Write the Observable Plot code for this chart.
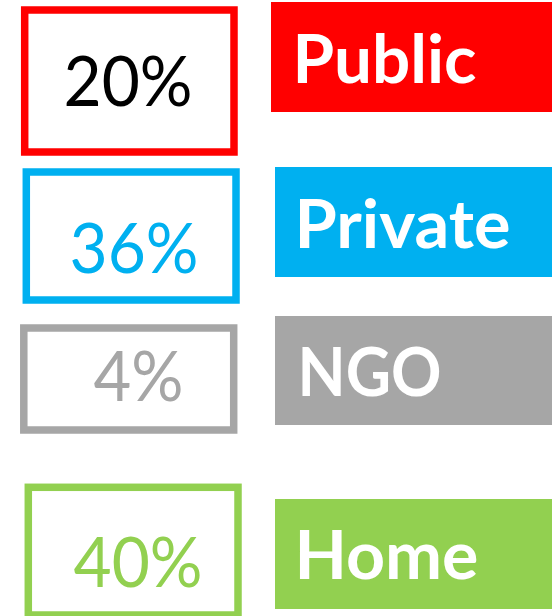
<!DOCTYPE html>
<html><head><meta charset="utf-8">
<script src="https://cdn.jsdelivr.net/npm/d3@7"></script>
<script src="https://cdn.jsdelivr.net/npm/@observablehq/plot@0.6"></script>
<style>html,body{margin:0;padding:0;background:#fff;overflow:hidden}</style>
</head><body><div id="chart"></div>
<script>
// Data
const categories = ["Public", "Private", "NGO", "Home"];
const shares = [20, 36, 4, 40];
const colors = ["#FF0000", "#00B0F0", "#A6A6A6", "#92D050"];
const valueColors = ["#000000", "#00B0F0", "#A6A6A6", "#92D050"];

// Layout (infographic geometry, px)
const outlineBoxes = [
  [24.7, 234, 10, 152],
  [26.3, 236, 172, 300],
  [23.8, 233.7, 328, 430],
  [28.3, 238, 487.3, 615]
];
const labelBoxes = [
  [271, 552, 2, 112],
  [275, 552, 167, 277],
  [275, 552, 316, 425],
  [275, 552, 499, 609]
];
const pctAnchors = [[63, 105, 129], [69, 272, 129], [93, 400, 90], [73, 586, 129]];
const labelAnchors = [[292, 82, 184], [294, 247, 216], [297, 395, 144], [294, 578, 184]];

const rows = categories.map((c, i) => ({
  category: c, share: shares[i], color: colors[i], valueColor: valueColors[i],
  ox1: outlineBoxes[i][0], ox2: outlineBoxes[i][1], oy1: outlineBoxes[i][2], oy2: outlineBoxes[i][3],
  lx1: labelBoxes[i][0], lx2: labelBoxes[i][1], ly1: labelBoxes[i][2], ly2: labelBoxes[i][3],
  px: pctAnchors[i][0], py: pctAnchors[i][1],
  tx: labelAnchors[i][0], ty: labelAnchors[i][1]
}));

const chart = Plot.plot({
  width: 552, height: 616, margin: 0,
  style: {background: "#fff", overflow: "hidden"},
  x: {domain: [0, 552], range: [0, 552], axis: null},
  y: {domain: [0, 616], range: [0, 616], axis: null},
  color: {type: "identity"},
  marks: [
    Plot.rect(rows, {x1: "lx1", x2: "lx2", y1: "ly1", y2: "ly2", fill: "color"}),
    Plot.rect(rows, {x1: "ox1", x2: "ox2", y1: "oy1", y2: "oy2", stroke: "color", fill: "white", strokeWidth: 7.5}),
    Plot.text(rows, {x: "px", y: "py", text: d => `${d.share}%`, fill: "valueColor",
      fontSize: 70, fontFamily: "Lato", textAnchor: "start", lineAnchor: "bottom"}),
    Plot.text(rows, {x: "tx", y: "ty", text: "category", fill: "white",
      fontSize: 67, fontWeight: "bold", fontFamily: "Lato", textAnchor: "start", lineAnchor: "bottom"})
  ]
});

const lengths = pctAnchors.map(a => a[2]).concat(labelAnchors.map(a => a[2]));
chart.querySelectorAll("text").forEach((n, i) => {
  if (i < lengths.length) {
    n.setAttribute("textLength", lengths[i]);
    n.setAttribute("lengthAdjust", "spacingAndGlyphs");
  }
});

document.getElementById("chart").appendChild(chart);
</script>
</body></html>
